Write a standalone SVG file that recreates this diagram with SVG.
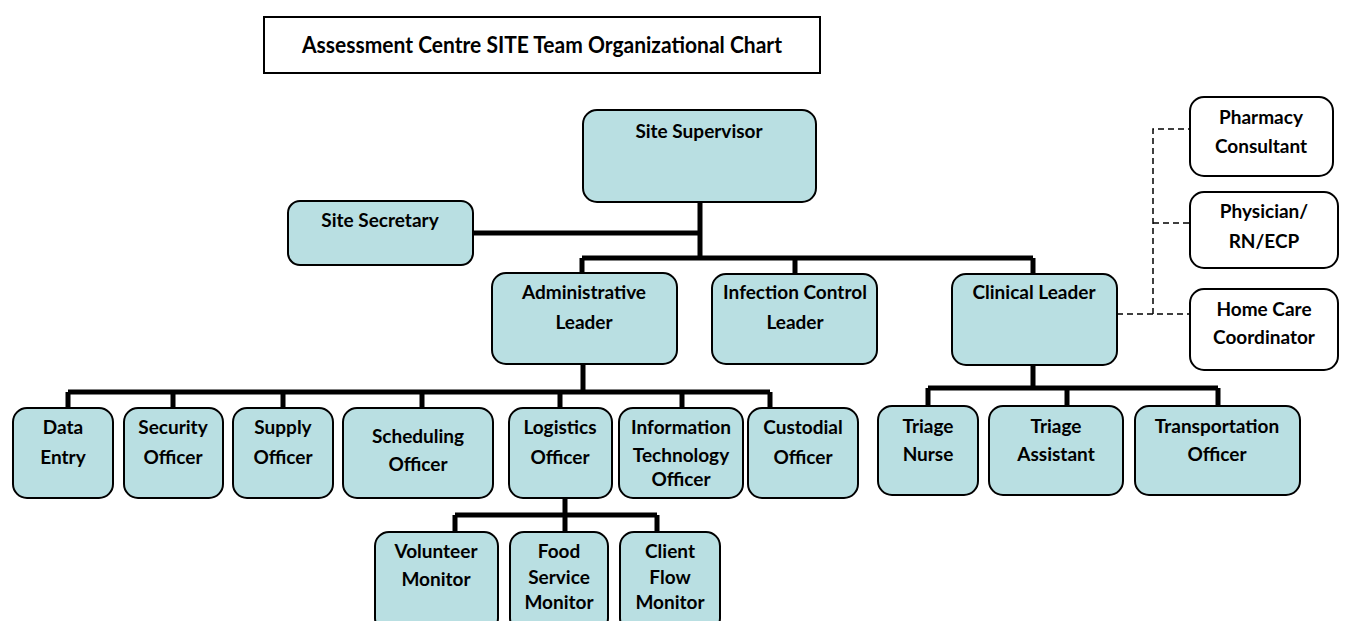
<svg xmlns="http://www.w3.org/2000/svg" width="1345" height="621" viewBox="0 0 1345 621">
<style>
.n{fill:#b9dfe2;stroke:#000;stroke-width:2}
.w{fill:#fff;stroke:#000;stroke-width:2}
.t{font-family:Lato,"Open Sans","Liberation Sans",sans-serif;font-weight:bold;font-size:19px;fill:#000;text-anchor:middle}
.c{fill:none;stroke:#000;stroke-width:5}
.d{fill:none;stroke:#000;stroke-width:1.5;stroke-dasharray:6,4}
</style>
<rect width="1345" height="621" fill="#fff"/>
<g id="title">
<rect x="264" y="17" width="556" height="56" fill="#fff" stroke="#000" stroke-width="2"/>
<text x="542" y="53" class="t" style="font-size:23px" textLength="480" lengthAdjust="spacingAndGlyphs">Assessment Centre SITE Team Organizational Chart</text>
</g>
<g id="connectors">
<path class="c" d="M700 202V258M473 233H700M582 258H1033M582 258V274M795 258V274M1033 258V274"/>
<path class="c" d="M583 364V392M68 392H770M68 392V408M173 392V408M283 392V408M422 392V408M560 392V408M682 392V408M770 392V408"/>
<path class="c" d="M1033 365V388M928 388H1218M928 388V406M1067 388V406M1218 388V406"/>
<path class="c" d="M565 498V515M455 515H657M455 515V532M565 515V532M657 515V532"/>
<path class="d" d="M1117 314H1190M1153 314V129H1190M1153 223H1190"/>
</g>
<g id="site-supervisor"><rect class="n" x="583" y="110" width="233" height="92" rx="14"/><text class="t" x="699" y="138">Site Supervisor</text></g>
<g id="site-secretary"><rect class="n" x="288" y="201" width="185" height="64" rx="12"/><text class="t" x="380" y="227">Site Secretary</text></g>
<g id="administrative-leader"><rect class="n" x="492" y="273" width="185" height="91" rx="14"/><text class="t" x="584" y="299">Administrative</text><text class="t" x="584" y="329">Leader</text></g>
<g id="infection-control-leader"><rect class="n" x="712" y="274" width="165" height="90" rx="14"/><text class="t" x="795" y="299">Infection Control</text><text class="t" x="795" y="329">Leader</text></g>
<g id="clinical-leader"><rect class="n" x="952" y="274" width="165" height="91" rx="14"/><text class="t" x="1034" y="299">Clinical Leader</text></g>
<g id="pharmacy-consultant"><rect class="w" x="1190" y="97" width="143" height="79" rx="14"/><text class="t" x="1261" y="124">Pharmacy</text><text class="t" x="1261" y="153">Consultant</text></g>
<g id="physician"><rect class="w" x="1190" y="192" width="148" height="76" rx="14"/><text class="t" x="1264" y="218">Physician/</text><text class="t" x="1264" y="248">RN/ECP</text></g>
<g id="home-care-coordinator"><rect class="w" x="1190" y="289" width="148" height="81" rx="14"/><text class="t" x="1264" y="316">Home Care</text><text class="t" x="1264" y="344">Coordinator</text></g>
<g id="data-entry"><rect class="n" x="13" y="408" width="100" height="90" rx="14"/><text class="t" x="63" y="434">Data</text><text class="t" x="63" y="464">Entry</text></g>
<g id="security-officer"><rect class="n" x="124" y="408" width="99" height="90" rx="14"/><text class="t" x="173" y="434">Security</text><text class="t" x="173" y="464">Officer</text></g>
<g id="supply-officer"><rect class="n" x="233" y="408" width="100" height="90" rx="14"/><text class="t" x="283" y="434">Supply</text><text class="t" x="283" y="464">Officer</text></g>
<g id="scheduling-officer"><rect class="n" x="343" y="408" width="150" height="90" rx="14"/><text class="t" x="418" y="443">Scheduling</text><text class="t" x="418" y="471">Officer</text></g>
<g id="logistics-officer"><rect class="n" x="509" y="408" width="103" height="90" rx="14"/><text class="t" x="560" y="434">Logistics</text><text class="t" x="560" y="464">Officer</text></g>
<g id="it-officer"><rect class="n" x="619" y="408" width="124" height="90" rx="14"/><text class="t" x="681" y="434">Information</text><text class="t" x="681" y="462">Technology</text><text class="t" x="681" y="486">Officer</text></g>
<g id="custodial-officer"><rect class="n" x="748" y="408" width="110" height="90" rx="14"/><text class="t" x="803" y="434">Custodial</text><text class="t" x="803" y="464">Officer</text></g>
<g id="triage-nurse"><rect class="n" x="878" y="406" width="100" height="89" rx="14"/><text class="t" x="928" y="433">Triage</text><text class="t" x="928" y="461">Nurse</text></g>
<g id="triage-assistant"><rect class="n" x="989" y="406" width="134" height="89" rx="14"/><text class="t" x="1056" y="433">Triage</text><text class="t" x="1056" y="461">Assistant</text></g>
<g id="transportation-officer"><rect class="n" x="1135" y="406" width="165" height="89" rx="14"/><text class="t" x="1217" y="433">Transportation</text><text class="t" x="1217" y="461">Officer</text></g>
<g id="volunteer-monitor"><rect class="n" x="375" y="532" width="123" height="100" rx="14"/><text class="t" x="436" y="558">Volunteer</text><text class="t" x="436" y="586">Monitor</text></g>
<g id="food-service-monitor"><rect class="n" x="510" y="532" width="98" height="100" rx="14"/><text class="t" x="559" y="558">Food</text><text class="t" x="559" y="584">Service</text><text class="t" x="559" y="609">Monitor</text></g>
<g id="client-flow-monitor"><rect class="n" x="620" y="532" width="100" height="100" rx="14"/><text class="t" x="670" y="558">Client</text><text class="t" x="670" y="584">Flow</text><text class="t" x="670" y="609">Monitor</text></g>
</svg>
